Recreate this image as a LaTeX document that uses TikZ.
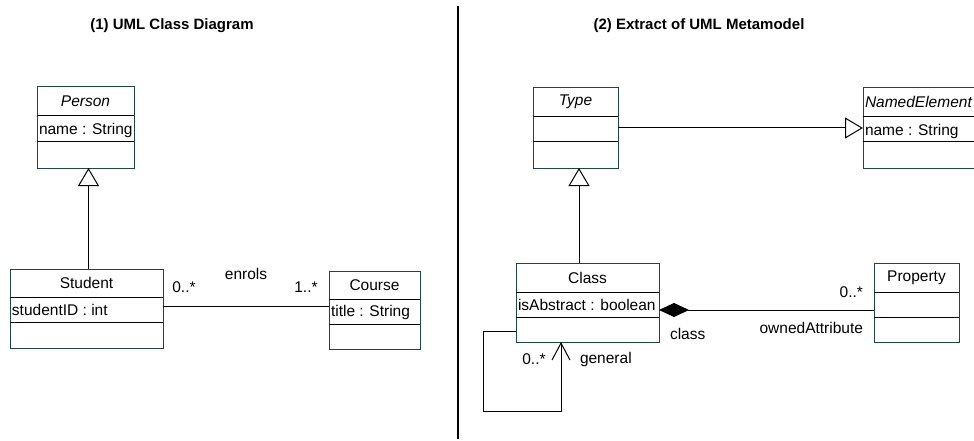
\documentclass[tikz,border=0pt]{standalone}
\usepackage{fontspec}
\setmainfont{Liberation Sans}
\usetikzlibrary{arrows.meta}
\definecolor{boxline}{RGB}{30,70,70}
% class box: name, left x, top y, width, height, first divider y, second divider y
\newcommand\umlclass[7]{%
  \node[umlbox, minimum width=#4pt, minimum height=#5pt] (#1) at (#2,#3) {};
  \draw[divider] (#2,#6) -- ++(#4,0);
  \draw[divider] (#2,#7) -- ++(#4,0);
}
\begin{document}
\begin{tikzpicture}[x=1pt,y=-1pt,
  every node/.style={font=\fontsize{15.5}{18}\selectfont, inner sep=0pt, outer sep=0pt},
  umlbox/.style={draw=boxline, line width=1pt, fill=white, anchor=north west, inner sep=0pt},
  divider/.style={draw=black, line width=1pt},
  conn/.style={draw=black, line width=1pt},
  heading/.style={font=\bfseries\fontsize{15}{18}\selectfont},
  abstractname/.style={font=\itshape\fontsize{15.5}{18}\selectfont},
  attr/.style={anchor=west},
  inherit/.style={-{Triangle[open, length=18pt, width=21pt, fill=white]}},
  compose/.style={-{Diamond[length=30pt, width=14pt, fill=black]}},
  navigate/.style={-{Straight Barb[length=17pt, width=18pt, line width=1pt]}}
]
\clip (0,0) rectangle (974,441);
\fill[white] (0,0) rectangle (974,441);

% headings and the separating rule
\node[heading] (head1) at (172,26) {(1) UML Class Diagram};
\node[heading] (head2) at (699,26) {(2) Extract of UML Metamodel};
\coordinate (ruletop) at (458,6);
\coordinate (rulebottom) at (458,439);
\draw[line width=2pt] (ruletop) -- (rulebottom);

% ---- left: class diagram ----
\umlclass{person}{37}{87}{97}{81}{116}{142}
\node[abstractname] (personname) at (85.5,101.5) {Person};
\node[attr] (personattr) at (39,130) {name : String};

\umlclass{student}{10}{269}{153}{79}{297}{322}
\node (studentname) at (86.5,283) {Student};
\node[attr] (studentattr) at (12,310) {studentID : int};

\umlclass{course}{329}{271}{91}{78}{299}{324}
\node (coursename) at (374.5,285) {Course};
\node[attr] (courseattr) at (331,312) {title : String};

\draw[conn, inherit] ([xshift=3pt]person.south |- student.north) -- ([xshift=3pt]person.south);
\draw[conn] ([yshift=2.5pt]student.east) -- ([yshift=2.5pt]student.east -| course.west);
\node (mult1) at (184,287) {0..*};
\node (assoc) at (246,274) {enrols};
\node (mult2) at (306,287) {1..*};

% ---- right: metamodel extract ----
\umlclass{type}{533}{88}{85}{80}{117}{142}
\node[abstractname] (typename) at (575.5,102) {Type};

\umlclass{named}{863}{88}{140}{80}{117}{142}
\node[abstractname, anchor=west] (namedname) at (865,102) {NamedElement};
\node[attr] (namedattr) at (865,131) {name : String};

\umlclass{class}{516}{263}{143}{79}{292}{317}
\node (classname) at (587.5,278) {Class};
\node[attr] (classattr) at (518,305) {isAbstract : boolean};

\umlclass{property}{874}{263}{85}{79}{292}{317}
\node (propname) at (916.5,278) {Property};

\draw[conn, inherit] (type.east) -- (type.east -| named.west);
\draw[conn, inherit] ([xshift=3.5pt]type.south |- class.north) -- ([xshift=3.5pt]type.south);
\draw[conn, compose] ([yshift=-7.5pt]property.west) -- ([yshift=-7.5pt]property.west -| class.east);
\node[anchor=east] (mult3) at (863,292) {0..*};
\node[anchor=east] (role1) at (863,328) {ownedAttribute};
\node[anchor=west] (role2) at (670,334) {class};

\coordinate (loopcorner) at (483,411);
\draw[conn, navigate] ([yshift=-28.5pt]class.west) -| (loopcorner) -| ([xshift=-26.5pt]class.south);
\node (mult4) at (534,359) {0..*};
\node[anchor=west] (role3) at (580,359) {general};
\end{tikzpicture}
\end{document}
